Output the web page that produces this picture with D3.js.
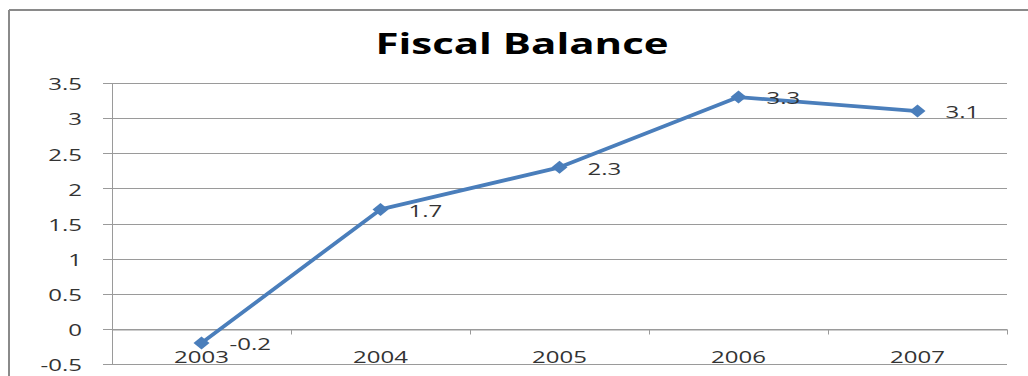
<!DOCTYPE html>
<html>
<head>
<meta charset="utf-8">
<script src="https://cdn.jsdelivr.net/npm/d3@7"></script>
<style>
  html, body { margin: 0; padding: 0; background: #fff; }
  svg { display: block; }
  text { font-family: "Open Sans", sans-serif; fill: #333; }
</style>
</head>
<body>
<svg id="chart" width="1028" height="376"></svg>
<script>
// Fiscal balance by year
const years = ["2003", "2004", "2005", "2006", "2007"];
const balance = [-0.2, 1.7, 2.3, 3.3, 3.1];
const yTicks = [-0.5, 0, 0.5, 1, 1.5, 2, 2.5, 3, 3.5];
const title = "Fiscal Balance";

const svg = d3.select("#chart");
const W = 1028, H = 376;
const plot = { left: 112, right: 1007, top: 83, bottom: 364 };
const SX = 1.5; // horizontal stretch applied to all text
const blue = "#4a7ebb";
const gridColor = "#9a9a9a";

// outer frame (top and left edges)
svg.append("line").attr("x1", 9).attr("x2", W).attr("y1", 10).attr("y2", 10)
  .attr("stroke", "#8a8a8a").attr("stroke-width", 2);
svg.append("line").attr("x1", 9).attr("x2", 9).attr("y1", 10).attr("y2", H)
  .attr("stroke", "#8a8a8a").attr("stroke-width", 2);

const x = d3.scaleBand().domain(years).range([plot.left, plot.right]).padding(0);
const y = d3.scaleLinear().domain([-0.5, 3.5]).range([plot.bottom, plot.top]);
const cx = d => x(d) + x.bandwidth() / 2;

function stretchedText(parent, tx, ty, str, anchor) {
  const g = parent.append("g").attr("transform", `translate(${tx},${ty}) scale(${SX},1)`);
  return g.append("text").attr("text-anchor", anchor).attr("dominant-baseline", "central").text(str);
}

// title
stretchedText(svg, 522, 43, title, "middle")
  .attr("font-size", 28).attr("font-weight", 700).style("fill", "#000");

// horizontal gridlines + y axis
const yAxis = d3.axisLeft(y).tickValues(yTicks).tickSize(9).tickFormat("");
const ya = svg.append("g").attr("transform", `translate(${plot.left},0)`).call(yAxis);
ya.select(".domain").attr("stroke", gridColor);
ya.selectAll(".tick line").attr("stroke", gridColor);
svg.append("g").selectAll("line").data(yTicks).join("line")
  .attr("x1", plot.left).attr("x2", plot.right)
  .attr("y1", d => Math.round(y(d)) + 0.5).attr("y2", d => Math.round(y(d)) + 0.5)
  .attr("stroke", gridColor).attr("stroke-width", 1);
ya.selectAll(".tick").attr("transform", d => `translate(0,${Math.round(y(d)) + 0.5})`);
const yl = svg.append("g");
yTicks.forEach(v => {
  stretchedText(yl, 82, y(v) + 1, String(v), "end").attr("font-size", 16);
});

// category axis along zero with boundary ticks
const xAxis = d3.axisBottom(x).tickSize(0).tickFormat("");
const xa = svg.append("g").attr("transform", `translate(0,${Math.round(y(0)) + 0.5})`).call(xAxis);
xa.select(".domain").attr("stroke", gridColor);
xa.selectAll(".tick line").remove();
const bounds = years.map(d => x(d)).concat([x(years[years.length - 1]) + x.bandwidth()]);
xa.selectAll(".bound").data(bounds).join("line").attr("class", "bound")
  .attr("x1", d => Math.round(d) + 0.5).attr("x2", d => Math.round(d) + 0.5)
  .attr("y1", 0).attr("y2", 5).attr("stroke", gridColor);
const xl = svg.append("g");
years.forEach(d => {
  stretchedText(xl, cx(d), y(0) + 28, d, "middle").attr("font-size", 16);
});

// series line
const pts = years.map((d, i) => ({ year: d, v: balance[i] }));
svg.append("path").datum(pts)
  .attr("d", d3.line().x(d => cx(d.year)).y(d => y(d.v)))
  .attr("fill", "none").attr("stroke", blue).attr("stroke-width", 3.8)
  .attr("stroke-linejoin", "round");

// diamond markers
svg.append("g").selectAll("path").data(pts).join("path")
  .attr("transform", d => `translate(${cx(d.year)},${y(d.v)})`)
  .attr("d", "M0,-6.5 L8,0 L0,6.5 L-8,0 Z")
  .attr("fill", blue);

// value labels
const vl = svg.append("g");
pts.forEach(d => {
  stretchedText(vl, cx(d.year) + 28, y(d.v) + 1, String(d.v), "start").attr("font-size", 16);
});
</script>
</body>
</html>
